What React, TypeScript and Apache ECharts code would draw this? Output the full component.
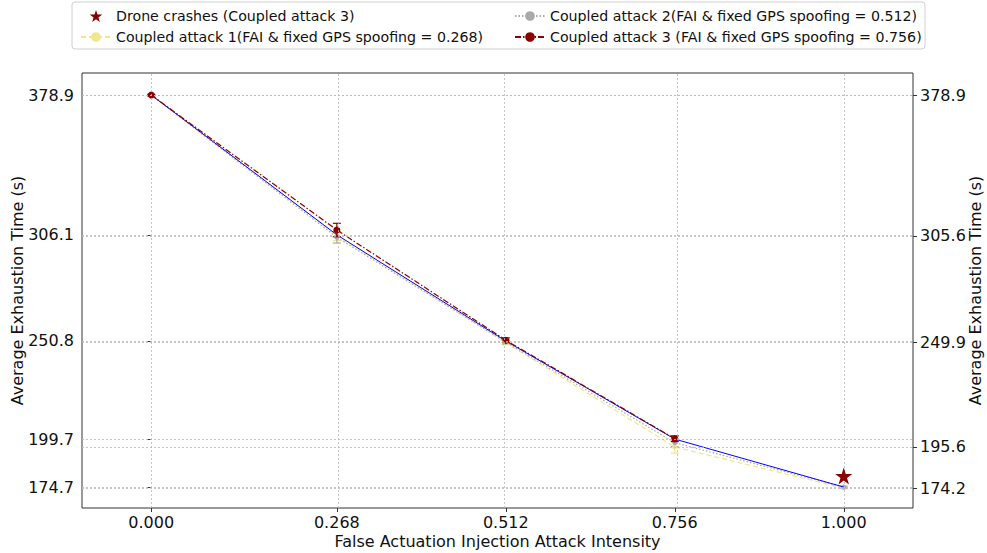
import React, { useEffect, useRef } from "react";
import * as echarts from "echarts";

const xTicks = [0, 0.268, 0.512, 0.756, 1.0];
const leftTicks = [174.7, 199.7, 250.8, 306.1, 378.9];
const rightTicks = [174.2, 195.6, 249.9, 305.6, 378.9];

const baseline = [378.9, 306.1, 250.8, 199.7, 174.7];
const attack1 = [378.9, 305.6, 249.9, 195.6, 174.2];
const attack1Err = [0.3, 2.5, 1.0, 3.2, 0.4];
const attack2 = [378.9, 304.8, 250.2, 197.8, 174.7];
const attack2Err = [0.3, 3.0, 1.0, 2.0, 0.5];
const attack3 = [378.9, 308.6, 251.2, 199.9];
const attack3Err = [0.4, 3.5, 1.2, 1.5];
const crashX = [1.0];
const crashY = [180.5];

const NAME_CRASH = "Drone crashes (Coupled attack 3)";
const NAME_A1 = "Coupled attack 1(FAI & fixed GPS spoofing = 0.268)";
const NAME_A2 = "Coupled attack 2(FAI & fixed GPS spoofing = 0.512)";
const NAME_A3 = "Coupled attack 3 (FAI & fixed GPS spoofing = 0.756)";

const STAR =
  "path://M50,0 L61.2,34.5 L97.6,34.5 L68.2,55.9 L79.4,90.5 L50,69.1 L20.6,90.5 L31.8,55.9 L2.4,34.5 L38.8,34.5 Z";

const FONT = "DejaVu Sans";

function pairs(ys: number[]) {
  return ys.map((y, i) => [xTicks[i], y]);
}

function errData(ys: number[], errs: number[]) {
  return ys.map((y, i) => [xTicks[i], y - errs[i], y + errs[i]]);
}

function errorSeries(name: string, ys: number[], errs: number[], color: string, z: number) {
  return {
    type: "custom",
    name,
    z,
    silent: true,
    data: errData(ys, errs),
    renderItem: (params: any, api: any) => {
      const x = api.value(0);
      const lo = api.coord([x, api.value(1)]);
      const hi = api.coord([x, api.value(2)]);
      const w = 4;
      const style = { stroke: color, lineWidth: 1.2 };
      return {
        type: "group",
        children: [
          { type: "line", shape: { x1: lo[0], y1: lo[1], x2: hi[0], y2: hi[1] }, style },
          { type: "line", shape: { x1: lo[0] - w, y1: lo[1], x2: lo[0] + w, y2: lo[1] }, style },
          { type: "line", shape: { x1: hi[0] - w, y1: hi[1], x2: hi[0] + w, y2: hi[1] }, style },
        ],
      };
    },
  };
}

export default function App() {
  const ref = useRef<HTMLDivElement>(null);
  useEffect(() => {
    if (!ref.current) return;
    const chart = echarts.init(ref.current, null, { renderer: "svg" });
    const gridLine = { color: "#b8b8b8", type: [2, 2] as any, width: 0.8 };
    const legendText = { fontFamily: FONT, fontSize: 14.2, color: "#111" };
    const axisName = { fontFamily: FONT, fontSize: 16, color: "#111" };
    const tickLabel = { fontFamily: FONT, fontSize: 16, color: "#111" };
    const option: any = {
      animation: false,
      textStyle: { fontFamily: FONT },
      grid: {
        left: 82,
        right: 74,
        top: 73,
        bottom: 45,
        containLabel: false,
        outerBoundsMode: "none",
        show: true,
        borderColor: "#333",
        borderWidth: 1,
        backgroundColor: "transparent",
      },
      legend: [
        {
          orient: "vertical",
          left: 75,
          top: 4,
          itemWidth: 30,
          itemHeight: 12,
          itemGap: 7,
          textStyle: legendText,
          data: [NAME_CRASH, NAME_A1],
        },
        {
          orient: "vertical",
          left: 509,
          top: 4,
          itemWidth: 30,
          itemHeight: 12,
          itemGap: 7,
          textStyle: legendText,
          data: [NAME_A2, NAME_A3],
        },
      ],
      graphic: [
        {
          type: "rect",
          shape: { x: 72, y: 2, width: 853, height: 47, r: 3 },
          style: { fill: "rgba(255,255,255,0.8)", stroke: "#d0d0d0", lineWidth: 1 },
          z: -1,
        },
      ],
      xAxis: {
        type: "value",
        min: -0.1,
        max: 1.1,
        name: "False Actuation Injection Attack Intensity",
        nameLocation: "middle",
        nameGap: 25,
        nameMoveOverlap: false,
        nameTextStyle: axisName,
        axisLine: { show: false },
        axisTick: { show: true, length: 4, customValues: xTicks, lineStyle: { color: "#333" } },
        axisLabel: {
          customValues: xTicks,
          ...tickLabel,
          margin: 6,
          formatter: (v: number) => v.toFixed(3),
        },
        splitLine: { show: false },
      },
      yAxis: [
        {
          type: "value",
          position: "left",
          min: 163.8,
          max: 390.4,
          name: "Average Exhaustion Time (s)",
          nameLocation: "middle",
          nameRotate: 90,
          nameGap: 57,
          nameMoveOverlap: false,
          nameTextStyle: axisName,
          axisLine: { show: false },
          axisTick: { show: true, length: 4, customValues: leftTicks, lineStyle: { color: "#333" } },
          axisLabel: {
            customValues: leftTicks,
            ...tickLabel,
            margin: 8,
            formatter: (v: number) => v.toFixed(1),
          },
          splitLine: { show: false },
        },
        {
          type: "value",
          position: "right",
          min: 163.8,
          max: 390.4,
          name: "Average Exhaustion Time (s)",
          nameLocation: "middle",
          nameRotate: 90,
          nameGap: 54,
          nameMoveOverlap: false,
          nameTextStyle: axisName,
          axisLine: { show: false },
          axisTick: { show: true, length: 4, customValues: rightTicks, lineStyle: { color: "#333" } },
          axisLabel: {
            customValues: rightTicks,
            ...tickLabel,
            margin: 7,
            formatter: (v: number) => v.toFixed(1),
          },
          splitLine: { show: false },
        },
      ],
      series: [
        {
          type: "line",
          name: "grid",
          data: [],
          silent: true,
          z: 0,
          markLine: {
            silent: true,
            symbol: "none",
            label: { show: false },
            lineStyle: gridLine,
            data: [
              ...xTicks.map((v) => ({ xAxis: v })),
              ...leftTicks.map((v) => ({ yAxis: v })),
              ...rightTicks.map((v) => ({ yAxis: v })),
            ],
          },
        },
        {
          type: "line",
          name: "baseline",
          data: pairs(baseline),
          showSymbol: false,
          symbol: "none",
          lineStyle: { color: "#0000ff", width: 1 },
          z: 3,
        },
        {
          type: "line",
          name: NAME_A1,
          data: pairs(attack1),
          symbol: "circle",
          symbolSize: 5,
          itemStyle: { color: "#f0e68c" },
          lineStyle: { color: "#f0e68c", width: 1.2, type: [5, 3] },
          z: 2,
        },
        errorSeries(NAME_A1, attack1, attack1Err, "#f0e68c", 2),
        {
          type: "line",
          name: NAME_A2,
          data: pairs(attack2),
          symbol: "circle",
          symbolSize: 5,
          itemStyle: { color: "#a9a9a9" },
          lineStyle: { color: "#a9a9a9", width: 1.2, type: [1.5, 2] },
          z: 2,
        },
        errorSeries(NAME_A2, attack2, attack2Err, "#a9a9a9", 2),
        {
          type: "line",
          name: NAME_A3,
          data: pairs(attack3),
          symbol: "circle",
          symbolSize: 7,
          itemStyle: { color: "#8b0000" },
          lineStyle: { color: "#8b0000", width: 1.2, type: [6, 2, 1.5, 2] },
          z: 4,
        },
        errorSeries(NAME_A3, attack3, attack3Err, "#8b0000", 4),
        {
          type: "scatter",
          name: NAME_CRASH,
          data: crashX.map((x, i) => [x, crashY[i]]),
          symbol: STAR,
          symbolSize: 17,
          itemStyle: { color: "#8b0000", opacity: 1 },
          z: 5,
        },
      ],
    };
    chart.setOption(option);
    return () => chart.dispose();
  }, []);
  return (
    <div
      ref={ref}
      style={{ position: "absolute", left: 0, top: 0, width: 987, height: 553 }}
    />
  );
}
